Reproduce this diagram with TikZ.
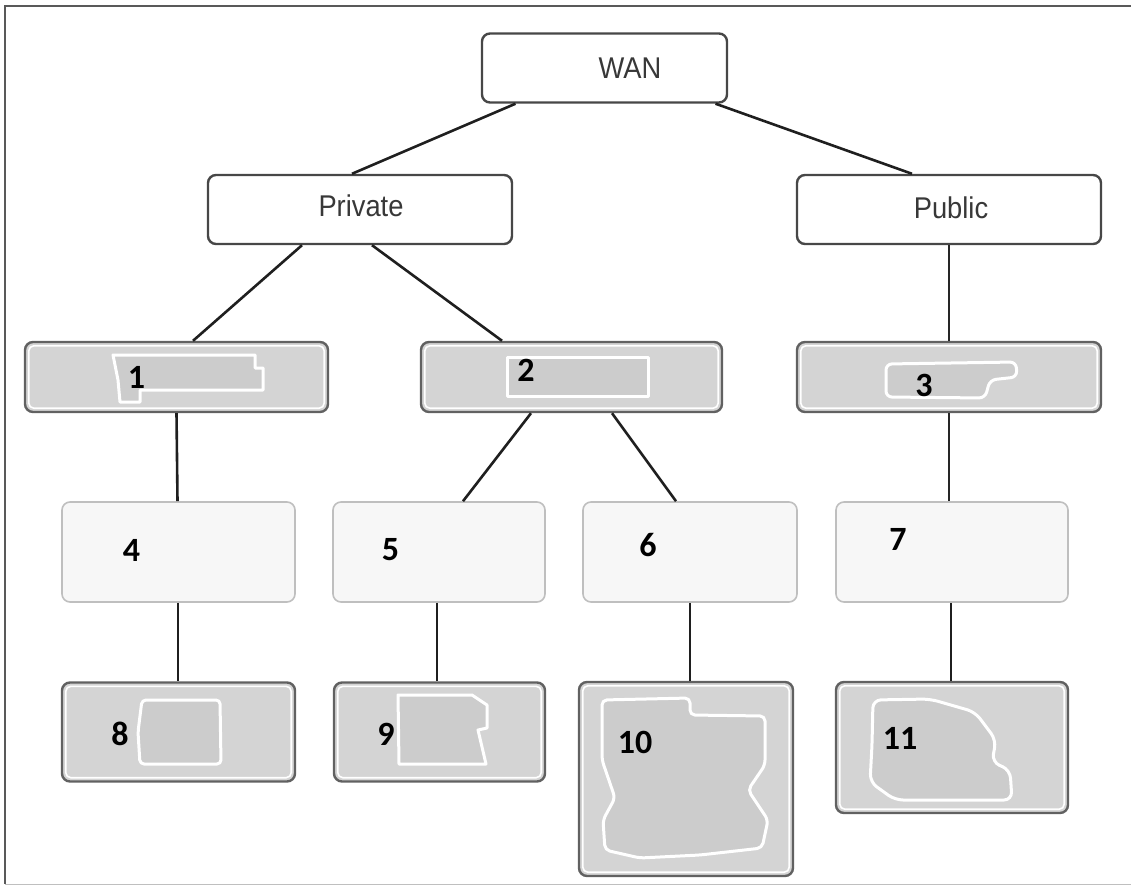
\documentclass[tikz,border=0pt]{standalone}
\usepackage{fontspec}
\setmainfont{Liberation Sans}
\newfontfamily\numfont{Carlito}
\newcommand{\narrowtxt}[1]{\scalebox{0.91}[1]{#1}}
\begin{document}
\begin{tikzpicture}[x=1pt,y=-1pt,
  base/.style={rectangle, rounded corners=8pt, line width=2.4pt, inner sep=0pt},
  topbox/.style={base, draw=black!72, fill=white},
  graybox/.style={base, draw=black!62, fill=black!17},
  lightbox/.style={base, draw=black!25, line width=1.6pt, fill=black!3},
  lbl/.style={text=black!78, font=\fontsize{30}{34}\selectfont, inner sep=0pt},
  num/.style={text=black, font=\numfont\bfseries\fontsize{34}{38}\selectfont, inner sep=0pt},
  conn/.style={draw=black!88, line width=2.6pt},
  thinconn/.style={draw=black!85, line width=2pt},
  blob/.style={draw=white, line width=3pt, fill=black!20, line join=round}
]
\useasboundingbox (0,0) rectangle (1131,890);
% frame
\draw[black!65, line width=1.3pt] (1131,6) -- (5,6) -- (5,884);
\draw[black!25, line width=1pt] (5,884) -- (1131,884);

% top levels
\node[topbox, minimum width=245pt, minimum height=69pt] (wan) at (604.5,68) {};
\node[lbl] (wanT) at (630,68) {\narrowtxt{WAN}};
\node[topbox, minimum width=304pt, minimum height=69pt] (private) at (360,209.5) {};
\node[lbl] (privateT) at (361,206) {\narrowtxt{Private}};
\node[topbox, minimum width=304pt, minimum height=69pt] (public) at (949,209.5) {};
\node[lbl] (publicT) at (951,207.5) {\narrowtxt{Public}};

% row 1
\node[graybox, minimum width=303pt, minimum height=70pt] (n1) at (176.5,377) {};
\node[graybox, minimum width=301pt, minimum height=70pt] (n2) at (571.5,377) {};
\node[graybox, minimum width=304pt, minimum height=70pt] (n3) at (949,377) {};
% row 2
\node[lightbox, minimum width=233pt, minimum height=100pt] (n4) at (178.5,552) {};
\node[lightbox, minimum width=212pt, minimum height=100pt] (n5) at (439,552) {};
\node[lightbox, minimum width=214pt, minimum height=100pt] (n6) at (690,552) {};
\node[lightbox, minimum width=232pt, minimum height=100pt] (n7) at (952,552) {};
% row 3
\node[graybox, minimum width=233pt, minimum height=99pt] (n8) at (178.5,732) {};
\node[graybox, minimum width=211pt, minimum height=99pt] (n9) at (439.5,732) {};
\node[graybox, minimum width=214pt, minimum height=194pt] (n10) at (686,779) {};
\node[graybox, minimum width=232pt, minimum height=131pt] (n11) at (952,747.5) {};

% inner white rims of the grey boxes
\foreach \n in {n1,n2,n3,n8,n9,n10,n11}
  \draw[white, line width=1.6pt, rounded corners=5pt]
    ([xshift=5pt,yshift=-5pt]\n.north west) rectangle ([xshift=-5pt,yshift=5pt]\n.south east);

% blurred blobs inside the grey boxes
\draw[blob] (113,355) -- (255,355) -- (255,368) -- (263,368) -- (263,390) -- (140,390) -- (140,402) -- (120,402) -- (118,380) -- cycle;
\draw[blob] (507,357) -- (648,357) -- (648,396) -- (507,396) -- cycle;
\draw[blob, rounded corners=6pt] (886,364) -- (1016,362) -- (1017,377) -- (990,380) -- (985,398) -- (886,397) -- cycle;
\draw[blob, rounded corners=4pt] (142,700) -- (220,700) -- (221,764) -- (140,764) -- (138,732) -- cycle;
\draw[blob] (398,695) -- (472,695) -- (487,705) -- (487,728) -- (478,730) -- (486,764) -- (399,764) -- cycle;
\draw[blob, rounded corners=5pt] (602,700) -- (690,698) -- (690,715) -- (765,716) -- (765,765) -- (748,790) -- (768,820) -- (762,848) -- (700,855) -- (640,858) -- (605,850) -- (603,820) -- (615,798) -- (602,760) -- cycle;
\draw[blob, rounded corners=8pt] (873,700) -- (930,699) -- (975,712) -- (996,740) -- (992,762) -- (1010,770) -- (1012,800) -- (895,800) -- (870,782) -- (872,745) -- cycle;

% numbers
\node[num] (t1) at (136.5,377) {1};
\node[num] (t2) at (526,370) {2};
\node[num] (t3) at (924,385) {3};
\node[num] (t4) at (131.5,550) {4};
\node[num] (t5) at (390.5,550) {5};
\node[num] (t6) at (648,545) {6};
\node[num] (t7) at (898,539) {7};
\node[num] (t8) at (120,734) {8};
\node[num] (t9) at (386,734) {9};
\node[num] (t10) at (635,742) {10};
\node[num] (t11) at (900,738) {11};

% connectors
\draw[conn] ([xshift=-89pt]wan.south) -- ([xshift=-8pt]private.north);
\draw[conn] ([xshift=111pt]wan.south) -- ([xshift=-37pt]public.north);
\draw[conn] ([xshift=-58pt]private.south) -- ([xshift=16.5pt]n1.north);
\draw[conn] ([xshift=12pt]private.south) -- ([xshift=-69.5pt]n2.north);
\draw[thinconn] (public.south) -- (n3.north);
\draw[conn] (n1.south) -- ([xshift=-1pt]n4.north);
\draw[conn] ([xshift=-40.5pt]n2.south) -- ([xshift=24pt]n5.north);
\draw[conn] ([xshift=40.5pt]n2.south) -- ([xshift=-14pt]n6.north);
\draw[thinconn] (n3.south) -- ([xshift=-3pt]n7.north);
\draw[conn] ([xshift=-0.5pt]n4.south) -- ([xshift=-0.5pt]n8.north);
\draw[conn] ([xshift=-2pt]n5.south) -- ([xshift=-2.5pt]n9.north);
\draw[conn] (n6.south) -- ([xshift=4pt]n10.north);
\draw[conn] ([xshift=-1pt]n7.south) -- ([xshift=-1pt]n11.north);
\end{tikzpicture}
\end{document}
